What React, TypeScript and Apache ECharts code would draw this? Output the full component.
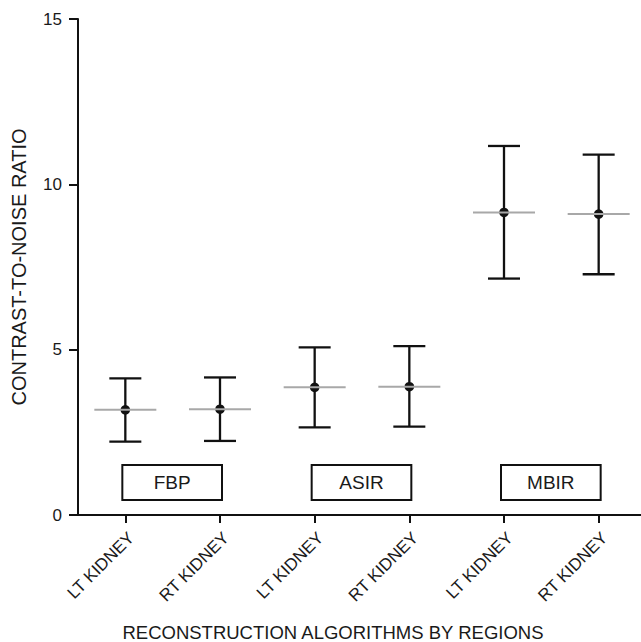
import React, { useEffect, useRef } from "react";
import * as echarts from "echarts";

const categories = ["LT KIDNEY", "RT KIDNEY", "LT KIDNEY", "RT KIDNEY", "LT KIDNEY", "RT KIDNEY"];
const means = [3.18, 3.2, 3.86, 3.88, 9.15, 9.1];
const lows = [2.22, 2.24, 2.65, 2.67, 7.15, 7.28];
const highs = [4.13, 4.16, 5.07, 5.11, 11.16, 10.9];
const groupNames = ["FBP", "ASIR", "MBIR"];
const groupStart = [0, 2, 4];
const groupEnd = [1, 3, 5];
const yTicks = [0, 5, 10, 15];

const FONT = "'Liberation Sans', Arial, Helvetica, sans-serif";

export default function App() {
  const ref = useRef<HTMLDivElement>(null);
  useEffect(() => {
    document.body.style.margin = "0";
    const chart = echarts.init(ref.current!, undefined, { renderer: "svg" });
    const barData = categories.map((_, i) => [i, means[i], lows[i], highs[i]]);
    const boxData = groupNames.map((n, i) => [groupStart[i], groupEnd[i], 0.45, 1.51, n]);
    chart.setOption({
      animation: false,
      backgroundColor: "#ffffff",
      grid: { left: 78, top: 19, bottom: 127, width: 568, containLabel: false, outerBoundsMode: "none" },
      xAxis: {
        type: "category",
        data: categories,
        axisLine: { lineStyle: { color: "#111", width: 2 } },
        axisTick: { show: true, alignWithLabel: true, length: 8, lineStyle: { color: "#111", width: 2 } },
        axisLabel: {
          rotate: 45,
          fontSize: 17,
          fontFamily: FONT,
          color: "#1a1a1a",
          margin: 14,
          verticalAlign: "top",
          interval: 0,
        },
        splitLine: { show: false },
      },
      yAxis: {
        type: "value",
        min: yTicks[0],
        max: yTicks[yTicks.length - 1],
        interval: 5,
        name: "CONTRAST-TO-NOISE RATIO",
        nameLocation: "middle",
        nameGap: 49,
        nameTextStyle: { fontSize: 20, fontFamily: FONT, color: "#1a1a1a" },
        axisLine: { show: true, lineStyle: { color: "#111", width: 2 } },
        axisTick: { show: true, length: 9, lineStyle: { color: "#111", width: 2 } },
        axisLabel: { fontSize: 17, fontFamily: FONT, color: "#1a1a1a", margin: 16 },
        splitLine: { show: false },
      },
      graphic: [
        {
          type: "text",
          x: 333,
          y: 632,
          style: {
            text: "RECONSTRUCTION ALGORITHMS BY REGIONS",
            fontSize: 18.5,
            fontFamily: FONT,
            fill: "#1a1a1a",
            align: "center",
            verticalAlign: "middle",
          },
        },
      ],
      series: [
        {
          type: "custom",
          data: barData,
          clip: false,
          renderItem: (params: any, api: any) => {
            const x = api.coord([api.value(0), api.value(1)])[0];
            const yM = api.coord([api.value(0), api.value(1)])[1];
            const yL = api.coord([api.value(0), api.value(2)])[1];
            const yH = api.coord([api.value(0), api.value(3)])[1];
            const cap = 16;
            const half = 31;
            const black = { stroke: "#111", lineWidth: 2.3 };
            return {
              type: "group",
              children: [
                { type: "line", shape: { x1: x, y1: yL, x2: x, y2: yH }, style: black },
                { type: "line", shape: { x1: x - cap, y1: yH, x2: x + cap, y2: yH }, style: black },
                { type: "line", shape: { x1: x - cap, y1: yL, x2: x + cap, y2: yL }, style: black },
                { type: "circle", shape: { cx: x, cy: yM, r: 4.8 }, style: { fill: "#111" } },
                { type: "line", shape: { x1: x - half, y1: yM, x2: x + half, y2: yM }, style: { stroke: "#a8a8a8", lineWidth: 2 } },
              ],
            };
          },
        },
        {
          type: "custom",
          data: boxData,
          clip: false,
          renderItem: (params: any, api: any) => {
            const p1 = api.coord([api.value(0), api.value(3)]);
            const p2 = api.coord([api.value(1), api.value(2)]);
            const x1 = p1[0] - 3;
            const x2 = p2[0] + 2;
            const y1 = p1[1];
            const y2 = p2[1];
            return {
              type: "group",
              children: [
                {
                  type: "rect",
                  shape: { x: x1, y: y1, width: x2 - x1, height: y2 - y1 },
                  style: { fill: "#fff", stroke: "#111", lineWidth: 2 },
                },
                {
                  type: "text",
                  x: (x1 + x2) / 2,
                  y: (y1 + y2) / 2,
                  style: {
                    text: groupNames[params.dataIndex],
                    fontSize: 19,
                    fontFamily: FONT,
                    fill: "#1a1a1a",
                    align: "center",
                    verticalAlign: "middle",
                  },
                },
              ],
            };
          },
        },
      ],
    });
    return () => chart.dispose();
  }, []);
  return <div ref={ref} style={{ position: "fixed", left: 0, top: 0, width: 641, height: 642 }} />;
}
